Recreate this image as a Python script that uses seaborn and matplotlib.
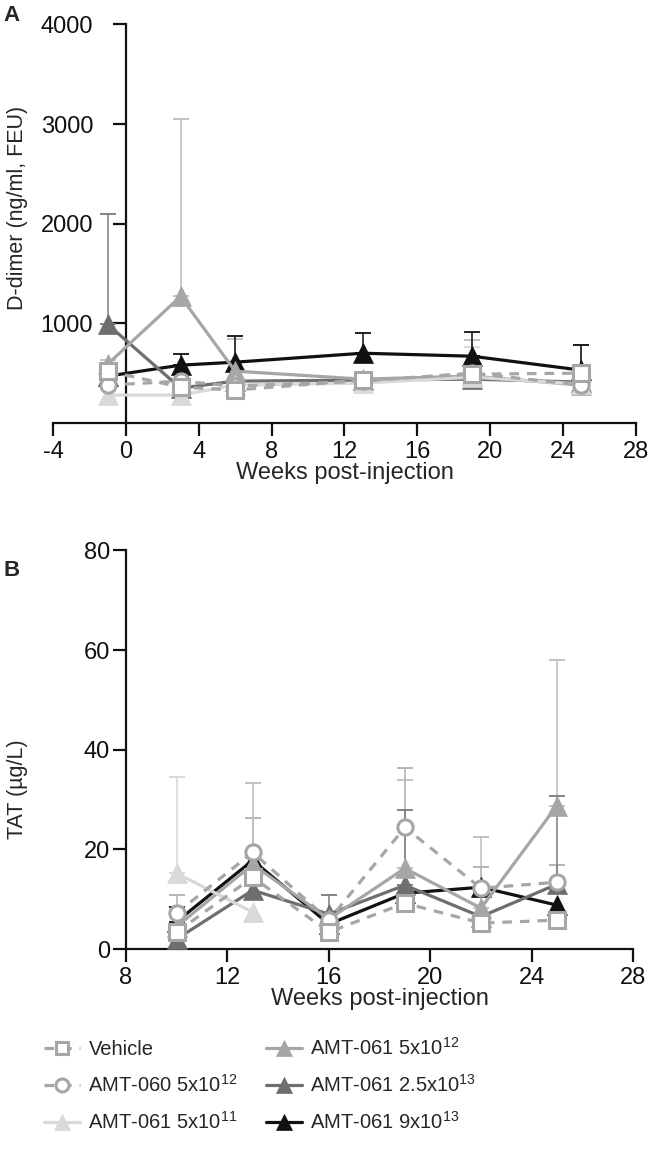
"""
D-dimer and TAT over time, two stacked panels with a shared legend.
"""

import numpy as np
import matplotlib
matplotlib.use("Agg")
import matplotlib.pyplot as plt
import seaborn as sns

# ---- data ----
groups = ["Vehicle", "AMT-060 5x10$^{12}$", "AMT-061 5x10$^{11}$",
          "AMT-061 5x10$^{12}$", "AMT-061 2.5x10$^{13}$", "AMT-061 9x10$^{13}$"]

weeks_a = [-1, 3, 6, 13, 19, 25]
ddimer_vehicle = [520, 360, 330, 430, 490, 500]
ddimer_amt060 = [380, 420, 370, 420, 500, 380]
ddimer_5e11 = [280, 280, 380, 400, 460, 390]
ddimer_5e12 = [590, 1270, 520, 440, 470, 380]
ddimer_25e13 = [990, 350, 420, 430, 440, 410]
ddimer_9e13 = [470, 580, 610, 700, 670, 530]

ddimer_sd_vehicle = [60, 60, 60, 60, 60, 280]
ddimer_sd_amt060 = [np.nan, np.nan, np.nan, np.nan, np.nan, np.nan]
ddimer_sd_5e11 = [np.nan, np.nan, np.nan, np.nan, 300, np.nan]
ddimer_sd_5e12 = [40, 1780, 320, np.nan, 360, np.nan]
ddimer_sd_25e13 = [1110, np.nan, np.nan, np.nan, np.nan, np.nan]
ddimer_sd_9e13 = [np.nan, 110, 260, 200, 240, 250]

weeks_b = [10, 13, 16, 19, 22, 25]
tat_vehicle = [3.4, 14.4, 3.4, 9.2, 5.2, 5.8]
tat_amt060 = [7.2, 19.4, 5.8, 24.4, 12.2, 13.4]
tat_5e11 = [15.2, 7.4, np.nan, np.nan, np.nan, np.nan]
tat_5e12 = [4.5, 17.0, 6.0, 16.2, 8.2, 28.8]
tat_25e13 = [2.0, 11.8, 7.0, 12.8, 6.5, 13.0]
tat_9e13 = [5.5, 17.8, 5.0, 11.2, 12.4, 8.8]

tat_sd_vehicle = [np.nan] * 6
tat_sd_amt060 = [3.6, 6.8, np.nan, 12.0, 4.2, 3.4]
tat_sd_5e11 = [19.4, np.nan, np.nan, np.nan, np.nan, np.nan]
tat_sd_5e12 = [np.nan, 16.4, np.nan, 17.8, 14.2, 29.2]
tat_sd_25e13 = [np.nan, np.nan, 3.8, 15.2, np.nan, 17.8]
tat_sd_9e13 = [3.0, np.nan, np.nan, np.nan, np.nan, np.nan]

# ---- style per group ----
colors = ["#a6a6a6", "#a6a6a6", "#d9d9d9", "#a6a6a6", "#6e6e6e", "#111111"]
err_colors = ["#a6a6a6", "#b0b0b0", "#d9d9d9", "#bdbdbd", "#7a7a7a", "#111111"]
markers = ["s", "o", "^", "^", "^", "^"]
dashed = [True, True, False, False, False, False]
hollow = [True, True, False, False, False, False]

sns.set_style("ticks")
plt.rcParams["font.family"] = ["Liberation Sans", "DejaVu Sans"]
plt.rcParams["mathtext.fontset"] = "custom"
plt.rcParams["mathtext.rm"] = "Liberation Sans"
plt.rcParams["mathtext.it"] = "Liberation Sans:italic"
plt.rcParams["mathtext.bf"] = "Liberation Sans:bold"
plt.rcParams["axes.unicode_minus"] = False

FS_TICK = 17
FS_YLAB = 15.5
FS_LEG = 14.5

fig = plt.figure(figsize=(6.51, 11.62), dpi=100)
ax_a = fig.add_axes([0.0814, 0.636, 0.8955, 0.343])
ax_b = fig.add_axes([0.1935, 0.1833, 0.779, 0.343])


def draw_panel(ax, weeks, series, sds, with_labels):
    for i, (vals, sd) in enumerate(zip(series, sds)):
        vals = np.asarray(vals, dtype=float)
        sd = np.asarray(sd, dtype=float)
        ok = ~np.isnan(sd)
        if ok.any():
            w = np.asarray(weeks)[ok]
            ax.errorbar(w, vals[ok], yerr=[np.zeros(ok.sum()), sd[ok]],
                        fmt="none", ecolor=err_colors[i], elinewidth=1.1,
                        capsize=6, capthick=1.3, zorder=1)
    for i, vals in enumerate(series):
        kw = dict(color=colors[i], marker=markers[i], linewidth=2.3,
                  markersize=11 if hollow[i] else 14,
                  markeredgewidth=2.2 if hollow[i] else 0.5,
                  markeredgecolor=colors[i],
                  markerfacecolor="white" if hollow[i] else colors[i])
        if dashed[i]:
            kw["linestyle"] = (0, (3, 2.5))
        sns.lineplot(x=weeks, y=vals, ax=ax, zorder=10 - i,
                     label=groups[i] if with_labels else None, **kw)
    for s in ["top", "right"]:
        ax.spines[s].set_visible(False)
    for s in ["left", "bottom"]:
        ax.spines[s].set_linewidth(1.6)
        ax.spines[s].set_color("#111111")
    ax.tick_params(width=1.6, length=9.5, labelsize=FS_TICK, colors="#111111")
    ax.set_xlabel("Weeks post-injection", fontsize=FS_TICK, labelpad=-1)


draw_panel(ax_a, weeks_a,
           [ddimer_vehicle, ddimer_amt060, ddimer_5e11, ddimer_5e12, ddimer_25e13, ddimer_9e13],
           [ddimer_sd_vehicle, ddimer_sd_amt060, ddimer_sd_5e11, ddimer_sd_5e12,
            ddimer_sd_25e13, ddimer_sd_9e13], True)
ax_a.set_xlim(-4, 28)
ax_a.set_ylim(0, 4000)
ax_a.set_xticks(range(-4, 29, 4))
ax_a.set_yticks([1000, 2000, 3000, 4000])
ax_a.tick_params(axis="y", pad=14)
ax_a.spines["left"].set_position(("data", 0))
ax_a.set_ylabel("D-dimer (ng/ml, FEU)", fontsize=FS_YLAB)
ax_a.yaxis.set_label_coords(-0.043, 0.54)

draw_panel(ax_b, weeks_b,
           [tat_vehicle, tat_amt060, tat_5e11, tat_5e12, tat_25e13, tat_9e13],
           [tat_sd_vehicle, tat_sd_amt060, tat_sd_5e11, tat_sd_5e12, tat_sd_25e13, tat_sd_9e13],
           False)
ax_b.set_xlim(8, 28)
ax_b.set_ylim(0, 80)
ax_b.set_xticks(range(8, 29, 4))
ax_b.set_yticks(range(0, 81, 20))
ax_b.tick_params(axis="y", pad=2)
ax_b.set_ylabel("TAT (µg/L)", fontsize=FS_YLAB)
ax_b.yaxis.set_label_coords(-0.193, 0.40)

handles, labels = ax_a.get_legend_handles_labels()
ax_a.get_legend().remove()
fig.legend(handles, labels, loc="upper left", bbox_to_anchor=(0.04, 0.123),
           ncol=2, frameon=False, fontsize=FS_LEG, handlelength=1.8,
           handletextpad=0.4, columnspacing=1.4, labelspacing=0.75,
           markerscale=0.85)

fig.text(0.006, 0.987, "A", fontsize=16, fontweight="bold", va="center")
fig.text(0.006, 0.509, "B", fontsize=16, fontweight="bold", va="center")

fig.savefig("out.png", dpi=100)
